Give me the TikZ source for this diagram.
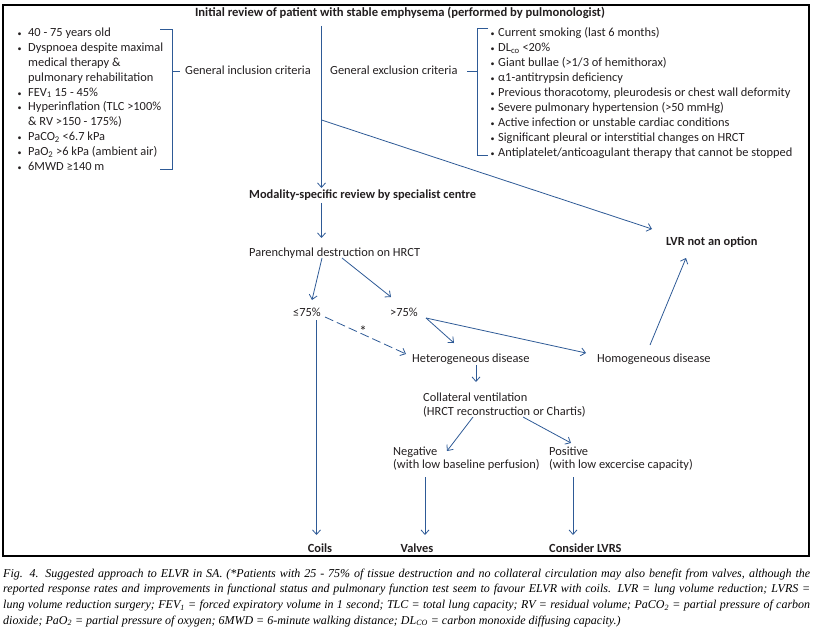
\documentclass[tikz,border=0pt]{standalone}
\usepackage{fontspec}
\setmainfont{Carlito}
\newfontfamily\capfont{Liberation Serif}
\usetikzlibrary{arrows.meta}
\definecolor{ln}{RGB}{46,90,150}
\definecolor{tx}{RGB}{35,31,32}
\newcommand{\bulL}{\makebox[10.5pt][l]{\fontsize{8}{8}\selectfont •}}
\newcommand{\bulR}{\makebox[7.5pt][l]{\fontsize{8}{8}\selectfont •}}
\newcommand{\indL}{\hspace*{10.5pt}}
\begin{document}
\begin{tikzpicture}[x=1pt,y=-1pt,
  txt/.style={inner sep=0pt, text=tx, font=\fontsize{12.4}{14.8}\selectfont},
  bld/.style={txt, font=\fontsize{12.4}{14.8}\selectfont\bfseries},
  conn/.style={draw=ln, line width=0.8pt},
  arr/.style={conn, -{Straight Barb[length=4.5pt,width=8pt]}},
  brk/.style={draw=ln, line width=0.9pt},
  frame/.style={draw=black, line width=1.1pt}]
\useasboundingbox (0,0) rectangle (813,636);
\draw[frame] (3,5) rectangle (809,556);

% texts
\node[bld, anchor=base, font=\fontsize{12.6}{14.8}\selectfont\bfseries] (title) at (400,17) {Initial review of patient with stable emphysema (performed by pulmonologist)};
\node[txt, anchor=base west] (incl) at (185,75) {General inclusion criteria};
\node[txt, anchor=base west] (excl) at (330,75) {General exclusion criteria};
\node[txt, anchor=base west] (inlist) at (17.5,37) {\begin{tabular}[t]{@{}l@{}}
\bulL 40 - 75 years old\\
\bulL Dyspnoea despite maximal\\
\indL medical therapy \&\\
\indL pulmonary rehabilitation\\
\bulL FEV\textsubscript{1} 15 - 45\%\\
\bulL Hyperinflation (TLC >100\%\\
\indL \& RV >150 - 175\%)\\
\bulL PaCO\textsubscript{2} <6.7 kPa\\
\bulL PaO\textsubscript{2} >6 kPa (ambient air)\\
\bulL 6MWD ≥140 m
\end{tabular}};
\node[txt, anchor=base west, font=\fontsize{12.4}{14.9}\selectfont] (exlist) at (490.5,37) {\begin{tabular}[t]{@{}l@{}}
\bulR Current smoking (last 6 months)\\
\bulR DL\textsubscript{co} <20\%\\
\bulR Giant bullae (>1/3 of hemithorax)\\
\bulR α1-antitrypsin deficiency\\
\bulR Previous thoracotomy, pleurodesis or chest wall deformity\\
\bulR Severe pulmonary hypertension (>50 mmHg)\\
\bulR Active infection or unstable cardiac conditions\\
\bulR Significant pleural or interstitial changes on HRCT\\
\bulR Antiplatelet/anticoagulant therapy that cannot be stopped
\end{tabular}};
\node[bld, anchor=base west] (modal) at (249,199) {Modality-specific review by specialist centre};
\node[txt, anchor=base west] (paren) at (249,256) {Parenchymal destruction on HRCT};
\node[txt, anchor=base west] (le) at (293,316) {≤75\%};
\node[txt, anchor=base west] (gt) at (390,316) {>75\%};
\node[txt, anchor=base west] (hetero) at (412,362) {Heterogeneous disease};
\node[txt, anchor=base west] (homo) at (597,362) {Homogeneous disease};
\node[bld, anchor=base west] (lvr) at (666,246) {LVR not an option};
\node[txt, anchor=base west, font=\fontsize{12.4}{14}\selectfont] (coll) at (423,401) {\begin{tabular}[t]{@{}l@{}}Collateral ventilation\\(HRCT reconstruction or Chartis)\end{tabular}};
\node[txt, anchor=base west, font=\fontsize{12.4}{13.5}\selectfont] (neg) at (393,455) {\begin{tabular}[t]{@{}l@{}}Negative\\(with low baseline perfusion)\end{tabular}};
\node[txt, anchor=base west, font=\fontsize{12.4}{13.5}\selectfont] (pos) at (549,455) {\begin{tabular}[t]{@{}l@{}}Positive\\(with low excercise capacity)\end{tabular}};
\node[bld, anchor=base] (coils) at (320,552) {Coils};
\node[bld, anchor=base] (valves) at (417,552) {Valves};
\node[bld, anchor=base west] (lvrs) at (549,552) {Consider LVRS};
\node[txt, anchor=base, font=\fontsize{15}{15}\selectfont] (star) at (363,336) {*};

% brackets
\draw[brk] (160,29) -- (172,29) -- (172,169) -- (160,169);
\draw[brk] (172,71) -- (180,71);
\draw[brk] (488,28) -- (477,28) -- (477,155) -- (488,155);
\draw[brk] (467,71) -- (477,71);

% connector end points
\coordinate (t0) at (321.5,26);
\coordinate (tb) at (321.5,120);
\coordinate (m0) at (321.5,188);
\coordinate (l0) at (652,229);
\coordinate (m1) at (321.5,203);
\coordinate (p0) at (321.5,238);
\coordinate (p1) at (322,258);
\coordinate (p2) at (342,258);
\coordinate (le0) at (312,300);
\coordinate (gt0) at (391,297);
\coordinate (le1) at (316.5,320);
\coordinate (co0) at (316.5,535);
\coordinate (le2) at (325,317);
\coordinate (he0) at (406,354);
\coordinate (gt1) at (426,318);
\coordinate (he1) at (454,343);
\coordinate (ho0) at (586,353);
\coordinate (ho1) at (650,345);
\coordinate (l1) at (686,258);
\coordinate (he2) at (476,365);
\coordinate (cv0) at (476,382);
\coordinate (cv1) at (473,417);
\coordinate (ne0) at (447,451);
\coordinate (cv2) at (523,417);
\coordinate (po0) at (571,443);
\coordinate (ne1) at (425,477);
\coordinate (va0) at (425,535);
\coordinate (po1) at (573,477);
\coordinate (lv0) at (573,535);

% connectors
\draw[arr] (t0) -- (m0);
\draw[arr] (tb) -- (l0);
\draw[arr] (m1) -- (p0);
\draw[arr] (p1) -- (le0);
\draw[arr] (p2) -- (gt0);
\draw[arr] (le1) -- (co0);
\draw[arr, dash pattern=on 9pt off 4pt] (le2) -- (he0);
\draw[arr] (gt1) -- (he1);
\draw[arr] (gt1) -- (ho0);
\draw[arr] (ho1) -- (l1);
\draw[arr] (he2) -- (cv0);
\draw[arr] (cv1) -- (ne0);
\draw[arr] (cv2) -- (po0);
\draw[arr] (ne1) -- (va0);
\draw[arr] (po1) -- (lv0);

% caption
\node[inner sep=0pt, anchor=base west, text=black, font=\capfont\itshape\fontsize{12}{15.7}\selectfont] (cap) at (3,577) {\begin{tabular}[t]{@{}l@{}}
\hbox to 807pt{Fig. 4. Suggested approach to ELVR in SA. (*Patients with 25 - 75\% of tissue destruction and no collateral circulation may also benefit from valves, although the}\\
\hbox to 807pt{reported response rates and improvements in functional status and pulmonary function test seem to favour ELVR with coils. LVR = lung volume reduction; LVRS =}\\
\hbox to 807pt{lung volume reduction surgery; FEV\textsubscript{1} = forced expiratory volume in 1 second; TLC = total lung capacity; RV = residual volume; PaCO\textsubscript{2} = partial pressure of carbon}\\
dioxide; PaO\textsubscript{2} = partial pressure of oxygen; 6MWD = 6-minute walking distance; DL\textsubscript{CO} = carbon monoxide diffusing capacity.)
\end{tabular}};
\end{tikzpicture}
\end{document}
